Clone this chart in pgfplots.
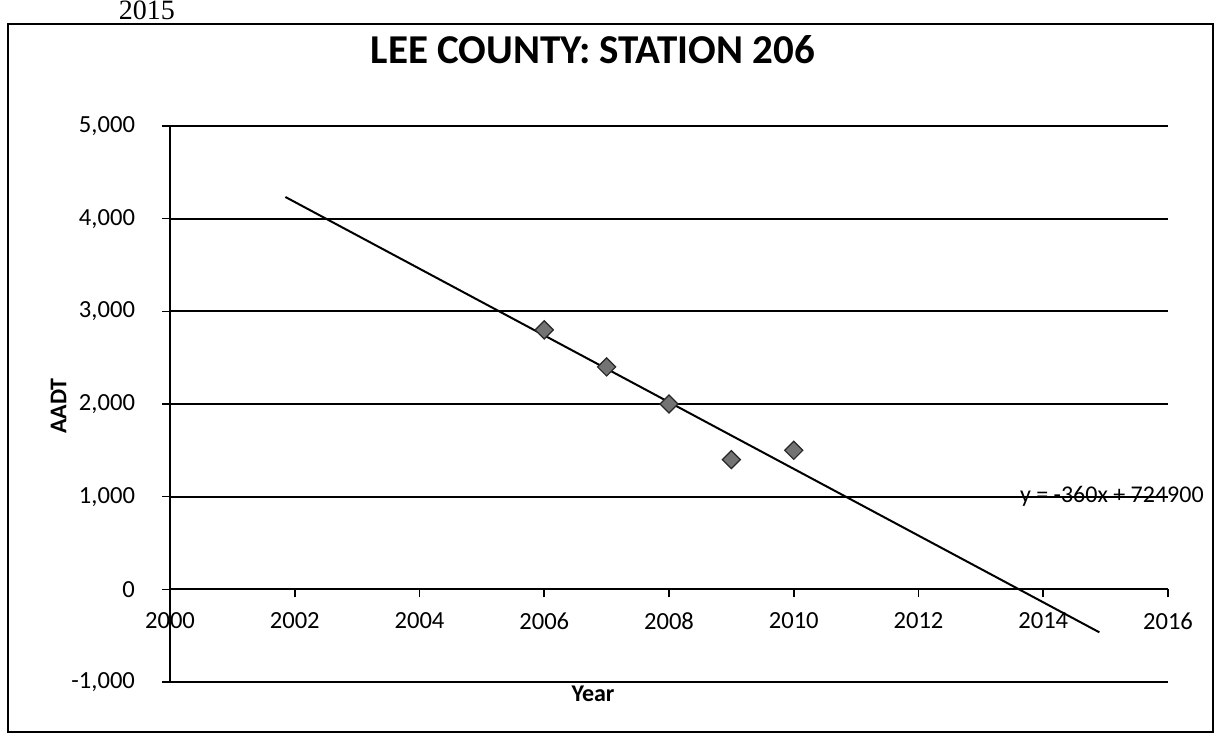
\documentclass[border=0pt]{standalone}
\usepackage{pgfplots}
\pgfplotsset{compat=1.18}
\usepackage{fontspec}
\setmainfont{Carlito}
\newfontfamily\seriffont{Liberation Serif}
\begin{document}
\begin{tikzpicture}
\useasboundingbox (-85pt,-31pt) rectangle (524.5pt,341pt);
\draw[line width=0.9pt] (-81pt,-25pt) rectangle (521.5pt,329pt);
\node[font=\seriffont\fontsize{14}{16}\selectfont] at (-11.5pt,336pt) {2015};
\node[font=\bfseries\fontsize{20.5}{24}\selectfont] at (211.5pt,316pt) {LEE COUNTY: STATION 206};
\node[rotate=90, font=\bfseries\fontsize{12}{14}\selectfont] at (-55.75pt,138pt) {AADT};
\node[font=\bfseries\fontsize{12}{14}\selectfont] at (211.5pt,-6pt) {Year};
\begin{axis}[
  at={(0pt,0pt)}, anchor=south west,
  scale only axis, width=499pt, height=278pt,
  xmin=2000, xmax=2016, ymin=-1000, ymax=5000,
  axis x line=middle, axis y line=left,
  axis line style={-, line width=0.9pt, black},
  xtick={2000,2002,2004,2006,2008,2010,2012,2014,2016},
  xticklabels={2000,2002,2004,2006,2008,2010,2012,2014,2016},
  ytick={-1000,0,1000,2000,3000,4000,5000},
  yticklabels={{-1,000},{0},{1,000},{2,000},{3,000},{4,000},{5,000}},
  ymajorgrids, grid style={black, line width=0.9pt},
  tick style={black, line width=0.8pt},
  tick align=outside, major tick length=4pt,
  hide obscured x ticks=false, hide obscured y ticks=false,
  ticklabel style={font=\fontsize{12.3}{14}\selectfont},
  xticklabel style={anchor=north, yshift=-4pt},
  yticklabel style={anchor=east, xshift=-10pt},
  clip=false,
]
\addplot[black, line width=1pt] coordinates {(2001.85,4234) (2014.9,-464)};
\addplot[only marks, mark=square*, mark size=3.2pt,
  mark options={rotate=45, fill=black!55, draw=black!85, line width=0.6pt}]
  coordinates {(2006,2800) (2007,2400) (2008,2000) (2009,1400) (2010,1500)};
\node[font=\fontsize{12}{14}\selectfont] at (axis cs:2015.1,1000) {y = -360x + 724900};
\end{axis}
\end{tikzpicture}
\end{document}
